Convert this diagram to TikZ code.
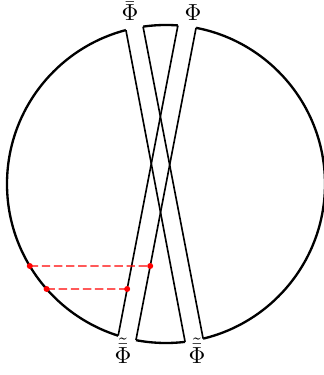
\documentclass[tikz,border=0pt]{standalone}
\usetikzlibrary{calc}
\usepackage{amsmath,amssymb}
\definecolor{rim}{HTML}{000000}
\definecolor{probe}{HTML}{FF0000}

\begin{document}
\begin{tikzpicture}[x=0.43pt,y=0.43pt,
    edge/.style={line width=0.7pt},
    probeline/.style={probe,line width=0.5pt,dash pattern=on 3.6pt off 1.6pt}]
  \useasboundingbox (-166,-191) rectangle (157,184);

  % band ends on the rim
  \coordinate (a1) at (104.6:159);
  \coordinate (a2) at (98.3:159);
  \coordinate (a3) at (276.9:159);
  \coordinate (a4) at (283.5:159);
  \coordinate (b1) at (85.7:159);
  \coordinate (b2) at (79.1:159);
  \coordinate (b3) at (252.5:159);
  \coordinate (b4) at (259.1:159);

  \draw[rim,line width=1pt] (0,0) circle (159);

  % open the rim where the bands pass
  \fill[white] ($(a1)!-0.03!(a3)$) -- ($(a2)!-0.03!(a4)$) -- ($(a4)!-0.03!(a2)$) -- ($(a3)!-0.03!(a1)$) -- cycle;
  \fill[white] ($(b1)!-0.03!(b3)$) -- ($(b2)!-0.03!(b4)$) -- ($(b4)!-0.03!(b2)$) -- ($(b3)!-0.03!(b1)$) -- cycle;

  \draw[edge] (a1) -- (a3);
  \draw[edge] (a2) -- (a4);
  \draw[edge] (b1) -- (b3);
  \draw[edge] (b2) -- (b4);

  % dashed probes from the rim to the band
  \coordinate (c1) at (211.05:159);
  \coordinate (c2) at (221.33:159);
  \coordinate (c1h) at ($(c1)+(300,0)$);
  \coordinate (c2h) at ($(c2)+(300,0)$);
  \coordinate (s1) at (intersection of b2--b4 and c1--c1h);
  \coordinate (s2) at (intersection of b1--b3 and c2--c2h);

  \draw[probeline] (c1) -- (s1);
  \draw[probeline] (c2) -- (s2);
  \foreach \p in {c1,s1,c2,s2} {
    \fill[probe] (\p) circle (3);
  }

  \node[anchor=base] (phibar) at (-36,163) {$\bar{\Phi}$};
  \node[anchor=base] (phi) at (27,163) {$\Phi$};
  \node[anchor=base] (tphibar) at (-43,-179) {$\tilde{\bar{\Phi}}$};
  \node[anchor=base] (tphi) at (31,-179) {$\tilde{\bar{\Phi}}$};
\end{tikzpicture}
\end{document}
